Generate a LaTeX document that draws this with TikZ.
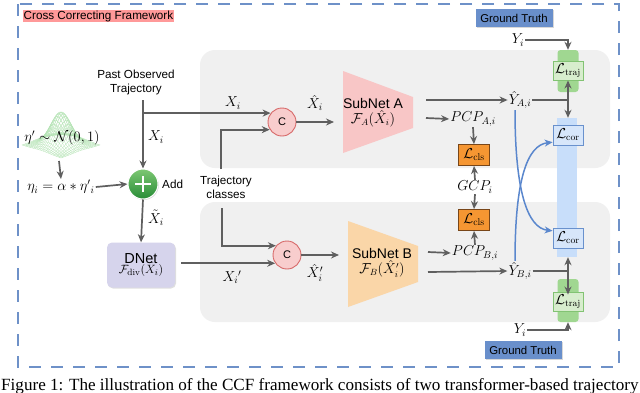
\documentclass[tikz,border=0pt]{standalone}
\usepackage{fontspec}
\usepackage{amsmath}
\newfontfamily\lsans{Liberation Sans}
\newfontfamily\lserif{Liberation Serif}
\usetikzlibrary{arrows.meta,shadows,calc}
\definecolor{framec}{RGB}{110,145,200}
\definecolor{titlepink}{RGB}{255,153,153}
\definecolor{panelgray}{RGB}{240,240,240}
\definecolor{arrgray}{RGB}{95,95,95}
\definecolor{cfill}{RGB}{248,205,205}
\definecolor{cdraw}{RGB}{215,105,105}
\definecolor{subafill}{RGB}{248,198,198}
\definecolor{subbfill}{RGB}{250,214,168}
\definecolor{dnetfill}{RGB}{214,212,236}
\definecolor{gtfill}{RGB}{105,143,203}
\definecolor{clsfill}{RGB}{245,150,50}
\definecolor{clsdraw}{RGB}{120,70,25}
\definecolor{trajfill}{RGB}{215,237,205}
\definecolor{trajdraw}{RGB}{130,195,115}
\definecolor{trajbar}{RGB}{160,215,145}
\definecolor{corfill}{RGB}{215,230,250}
\definecolor{cordraw}{RGB}{105,145,205}
\definecolor{corbar}{RGB}{200,222,250}
\definecolor{bluearr}{RGB}{90,135,205}
\definecolor{meshc}{RGB}{180,228,180}
\definecolor{addtop}{RGB}{125,200,115}
\definecolor{addbot}{RGB}{40,140,55}
\tikzset{
  sanslbl/.style={font=\lsans\fontsize{11.7}{14}\selectfont, inner sep=0pt, align=center},
  mlbl/.style={font=\fontsize{14}{16}\selectfont, inner sep=1pt},
  arr/.style={draw=arrgray, line width=1.7pt, -{Stealth[length=8pt,width=7pt]}},
  darr/.style={draw=arrgray, line width=1.7pt, {Stealth[length=8pt,width=7pt]}-{Stealth[length=8pt,width=7pt]}},
  gline/.style={draw=arrgray, line width=1.7pt},
  barr/.style={draw=bluearr, line width=1.5pt, -{Stealth[length=8pt,width=7pt]}},
  ccirc/.style={circle, minimum size=28pt, inner sep=0pt, fill=cfill, draw=cdraw, line width=0.9pt, font=\lsans\fontsize{11}{13}\selectfont},
  gtbox/.style={minimum width=77pt, minimum height=18pt, inner sep=0pt, fill=gtfill, font=\lsans\fontsize{11.4}{13}\selectfont, drop shadow={opacity=0.3, shadow xshift=1pt, shadow yshift=-1pt}},
  clsbox/.style={minimum width=31pt, minimum height=21pt, inner sep=0pt, fill=clsfill, draw=clsdraw, line width=0.9pt, font=\fontsize{14}{16}\selectfont},
  trajbox/.style={minimum width=30pt, minimum height=19pt, inner sep=0pt, fill=trajfill, draw=trajdraw, line width=0.9pt, font=\fontsize{13.5}{16}\selectfont},
  trajbarst/.style={minimum width=21pt, inner sep=0pt, fill=trajbar, rounded corners=3pt},
  corbox/.style={minimum width=30pt, minimum height=20pt, inner sep=0pt, fill=corfill, draw=cordraw, line width=0.9pt, font=\fontsize{13.5}{16}\selectfont},
  gmesh/.style={draw=meshc, line width=0.25pt}
}
\begin{document}
\begin{tikzpicture}[x=1pt,y=-1pt]
\useasboundingbox (0,0) rectangle (640,392);
\clip (0,0) rectangle (640,392);
\fill[white] (0,0) rectangle (640,392);
% frame
\draw[framec, line width=2pt, dash pattern=on 12pt off 10pt] (18,4) rectangle (619,367);
\node[anchor=west, fill=titlepink, inner xsep=0.5pt, inner ysep=0.5pt, font=\lsans\fontsize{11.7}{13}\selectfont] (title) at (23,16) {Cross Correcting Framework};
% panels
\fill[panelgray, rounded corners=15pt] (200,50) rectangle (610,168);
\fill[panelgray, rounded corners=15pt] (200,202) rectangle (610,322);
% gaussian mesh
\foreach \k in {-12,...,12} {
  \pgfmathsetmacro\u{\k/12}
  \draw[gmesh] plot[domain=-1:1, samples=31, smooth] ({61+19.5*(\u+\x)},{145+6.5*(\u-\x)-33*exp(-3.5*(\u*\u+\x*\x))});
  \draw[gmesh] plot[domain=-1:1, samples=31, smooth] ({61+19.5*(\x+\u)},{145+6.5*(\x-\u)-33*exp(-3.5*(\u*\u+\x*\x))});
}
\node[mlbl] (gauss) at (62,138) {$\eta' \sim \mathcal{N}(0,1)$};
\coordinate (gbase) at (59,161);
\node[mlbl] (eta) at (61,187) {$\eta_i = \alpha * \eta'{}_i$};
% past observed
\node[sanslbl] (pot) at (136,82) {Past Observed\\Trajectory};
\coordinate (potb) at (143,100);
\node[circle, minimum size=30pt, inner sep=0pt, shading=axis, top color=addtop, bottom color=addbot, draw=white, line width=1pt, drop shadow={opacity=0.3, shadow xshift=0.8pt, shadow yshift=-1pt}] (add) at (143,184) {};
\draw[white, line width=2.8pt] ([xshift=-8pt]add.center) -- ([xshift=8pt]add.center);
\draw[white, line width=2.8pt] ([yshift=-8pt]add.center) -- ([yshift=8pt]add.center);
\node[sanslbl, anchor=west] (addlbl) at (162,184) {Add};
\node[mlbl] (xi1) at (156,137) {$X_i$};
\node[mlbl] (xt) at (156,218) {$\tilde{X}_i$};
% DNet
\node[minimum width=68pt, minimum height=45pt, inner sep=0pt, fill=dnetfill, rounded corners=5pt, align=center, drop shadow={opacity=0.25, shadow xshift=1pt, shadow yshift=-1pt}] (dnet) at (141,265) {{\lsans\fontsize{14.5}{16}\selectfont DNet}\\[-2pt]{\fontsize{13}{15}\selectfont$\mathcal{F}_{\mathrm{div}}(\tilde{X}_i)$}};
% trajectory classes
\node[sanslbl] (tc) at (226,187) {Trajectory\\classes};
\coordinate (tcu) at (221,169);
\coordinate (tcd) at (222,208);
% concat circles
\node[ccirc] (c1) at (282,122) {C};
\node[ccirc] (c2) at (287,255) {C};
\node[mlbl] (xi2) at (233,103) {$X_i$};
\node[mlbl] (xh) at (315,103) {$\hat{X}_i$};
\node[mlbl] (xip) at (232,277) {$X_i{}'$};
\node[mlbl] (xhp) at (315,273) {$\hat{X}'_i$};
% subnets
\fill[subafill] (343,71) -- (413,97) -- (413,128) -- (343,153) -- cycle;
\node[align=center, inner sep=0pt] (subA) at (373,113) {{\lsans\fontsize{14}{16}\selectfont SubNet A}\\[0pt]{\fontsize{13.5}{15}\selectfont$\mathcal{F}_A(\hat{X}_i)$}};
\coordinate (subAin) at (334,122);
\coordinate (subAo1) at (426,100);
\coordinate (subAo2) at (426,118);
\fill[subbfill] (348,221) -- (418,246) -- (418,282) -- (348,307) -- cycle;
\node[align=center, inner sep=0pt] (subB) at (382,263) {{\lsans\fontsize{14}{16}\selectfont SubNet B}\\[0pt]{\fontsize{13.5}{15}\selectfont$\mathcal{F}_B(\hat{X}'_i)$}};
\coordinate (subBin) at (339,255);
\coordinate (subBo1) at (428,252);
\coordinate (subBo2) at (428,272);
% outputs
\node[mlbl] (ya) at (520,100) {$\hat{Y}_{A,i}$};
\node[mlbl] (yb) at (520,271) {$\hat{Y}_{B,i}$};
\node[mlbl] (pcpa) at (473,119) {$PCP_{A,i}$};
\node[mlbl] (pcpb) at (475,253) {$PCP_{B,i}$};
\node[mlbl] (gcp) at (475,187) {$GCP_i$};
\node[clsbox] (clsA) at (474,155) {$\mathcal{L}_{\mathrm{cls}}$};
\node[clsbox] (clsB) at (474,220) {$\mathcal{L}_{\mathrm{cls}}$};
% right column
\node[trajbarst, minimum height=42pt] (tbarA) at (568,71) {};
\node[trajbarst, minimum height=43pt] (tbarB) at (568,300.5) {};
\node[trajbox] (ltA) at (568,70.5) {$\mathcal{L}_{\mathrm{traj}}$};
\node[trajbox] (ltB) at (568,301.5) {$\mathcal{L}_{\mathrm{traj}}$};
\node[minimum width=20pt, minimum height=139pt, inner sep=0pt, fill=corbar] (cbar) at (567,187.5) {};
\node[corbox] (lcA) at (568,135) {$\mathcal{L}_{\mathrm{cor}}$};
\node[corbox] (lcB) at (568,238) {$\mathcal{L}_{\mathrm{cor}}$};
\node[gtbox] (gtA) at (514,18) {Ground Truth};
\node[gtbox] (gtB) at (523,350) {Ground Truth};
\node[mlbl] (yiA) at (518,40) {$Y_i$};
\node[mlbl] (yiB) at (520,330) {$Y_i$};
% connectors left
\draw[arr] (gbase) -- (eta.north);
\draw[arr] (eta.east) -- (add.west);
\draw[arr] (potb) -- (add.north);
\draw[arr] (add.south) -- (dnet.north);
\draw[arr] (potb |- c1.142) -- (c1.142);
\draw[arr] (tcu) |- (c1.212);
\draw[arr] (tcd) |- (c2.140);
\draw[arr] ([xshift=6pt]dnet.east |- c2.215) -- (c2.215);
\draw[arr] (c1.east) -- (subAin);
\draw[arr] (c2.east) -- (subBin);
% subnet outputs
\draw[arr] (subAo1) -- (ya.west);
\draw[arr] (subAo2) -- (pcpa.west);
\draw[arr] (subBo1) -- (pcpb.west);
\draw[arr] (subBo2) -- (yb.west);
\draw[arr] (pcpa.south) -- (clsA.north);
\draw[arr] (gcp.north) -- (clsA.south);
\draw[arr] (gcp.south) -- (clsB.north);
\draw[arr] (pcpb.north) -- (clsB.south);
% right connectors
\draw[arr] (yiA.east) -| (tbarA.north);
\draw[arr] (yiB.east) -| (tbarB.south);
\draw[gline] (ya.east) -- (ya.east -| ltA.south);
\draw[gline] (yb.east) -- (yb.east -| ltB.north);
\draw[darr] (ltA.south) -- (cbar.north -| ltA.south);
\draw[darr] (cbar.south -| ltB.north) -- ([yshift=-3pt]ltB.north);
% blue crossing curves
\draw[barr] ([xshift=-5pt]ya.south) .. controls (515,190) and (527,228) .. (lcB.155);
\draw[barr] ([xshift=-5pt]yb.north) .. controls (515,180) and (527,145) .. (lcA.205);
% caption
\node[anchor=base west, inner sep=0pt, font=\lserif\fontsize{17.1}{19}\selectfont] (cap) at (1,390.5) {Figure 1: The illustration of the CCF framework consists of two transformer-based trajectory};
\end{tikzpicture}
\end{document}
